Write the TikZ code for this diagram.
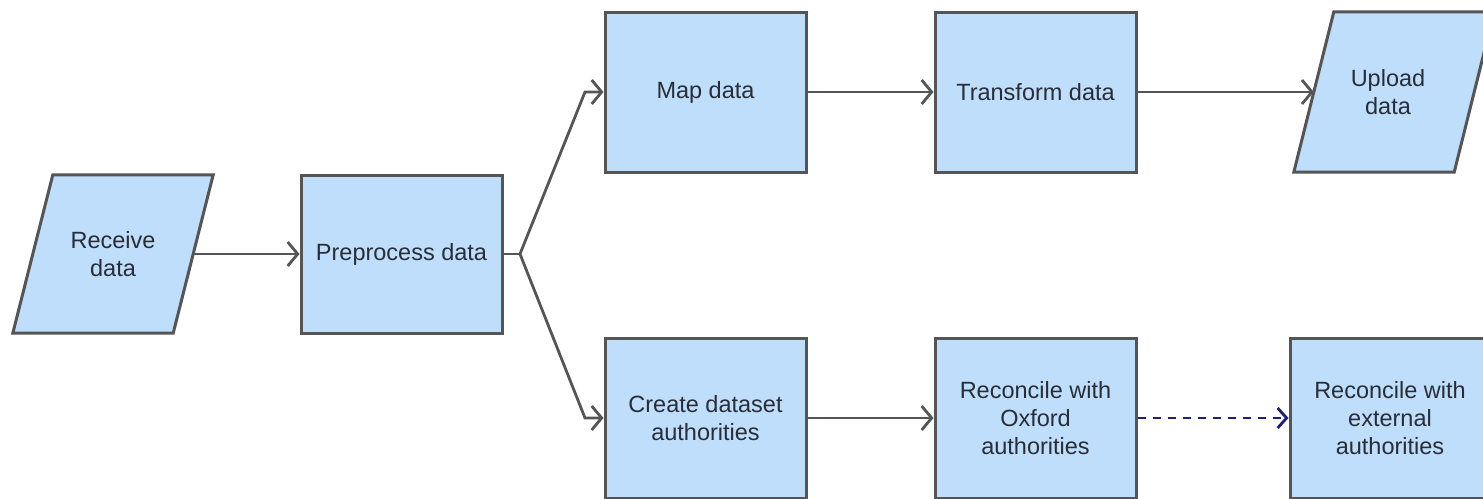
\documentclass[tikz,border=0pt]{standalone}
\usepackage{fontspec}
\setmainfont{Liberation Sans}
\usetikzlibrary{arrows.meta,calc}
\definecolor{boxfill}{RGB}{191,222,251}
\definecolor{boxline}{RGB}{85,85,85}
\definecolor{txt}{RGB}{40,45,55}
\definecolor{navy}{RGB}{30,30,130}
\tikzset{
  procbox/.style={draw=boxline, fill=boxfill, line width=3pt, minimum width=201pt, minimum height=160pt, align=center, text=txt, font=\fontsize{23.5}{28}\selectfont, inner sep=0pt},
  parabox/.style={draw=none, minimum width=160pt, minimum height=#1, align=center, text=txt, font=\fontsize{23.5}{28}\selectfont, inner sep=0pt},
  paraline/.style={draw=boxline, fill=boxfill, line width=3pt},
  flow/.style={draw=boxline, line width=2.8pt, -{Straight Barb[length=10pt,width=24pt,line width=2.8pt]}},
  flowplain/.style={draw=boxline, line width=2.8pt},
  dflow/.style={draw=navy, line width=2.8pt, dash pattern=on 8pt off 7pt, -{Straight Barb[length=9pt,width=20pt,line width=2.8pt]}}
}
\begin{document}
\begin{tikzpicture}[x=1pt,y=-1pt]
\useasboundingbox[fill=white] (0,0) rectangle (1483,498);
% parallelogram backgrounds
\node[parabox=158pt] (recv) at (113,254) {};
\draw[paraline] ($(recv.north west)+(20,0)$) -- ($(recv.north east)+(20,0)$) -- ($(recv.south east)+(-20,0)$) -- ($(recv.south west)+(-20,0)$) -- cycle;
\node[parabox=158pt] at (recv) {Receive\\data};
\node[parabox=160pt] (upl) at (1394,92) {};
\draw[paraline] ($(upl.north west)+(20,0)$) -- ($(upl.north east)+(20,0)$) -- ($(upl.south east)+(-20,0)$) -- ($(upl.south west)+(-20,0)$) -- cycle;
\node[parabox=160pt] at (1388,92) {Upload\\data};
% boxes
\node[procbox, minimum height=158pt] (pre) at (401.5,254) {Preprocess data};
\node[procbox] (map) at (705.5,92) {Map data};
\node[procbox] (trans) at (1035.5,92) {Transform data};
\node[procbox] (create) at (705.5,418) {Create dataset\\authorities};
\node[procbox] (oxf) at (1035.5,418) {Reconcile with\\Oxford\\authorities};
\node[procbox, minimum width=200pt] (ext) at (1390,418) {Reconcile with\\external\\authorities};
% connectors
\coordinate (j) at (520,254);
\coordinate (ju) at (585,92);
\coordinate (jd) at (585,418);
\draw[flow] (recv.east) -- (pre.west);
\draw[flowplain] (pre.east) -- (j);
\draw[flow] (j) -- (ju) -- (map.west);
\draw[flow] (j) -- (jd) -- (create.west);
\draw[flow] (map.east) -- (trans.west);
\draw[flow] (trans.east) -- (upl.west);
\draw[flow] (create.east) -- (oxf.west);
\draw[dflow] (oxf.east) -- (ext.west);
\end{tikzpicture}
\end{document}
